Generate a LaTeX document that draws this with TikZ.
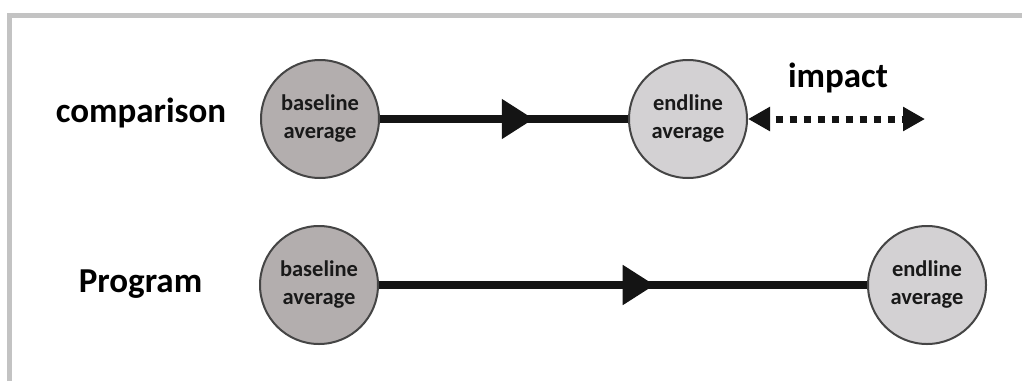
\documentclass[tikz,border=0pt]{standalone}
\usepackage{fontspec}
\setmainfont{Carlito}
\usetikzlibrary{arrows.meta,decorations.markings}
\definecolor{bordergray}{HTML}{C3C3C3}
\definecolor{basefill}{HTML}{B3AEAE}
\definecolor{endfill}{HTML}{D3D1D3}
\definecolor{ringcol}{HTML}{454545}
\tikzset{
  avgcircle/.style={circle, draw=ringcol, line width=2pt, minimum size=118pt, inner sep=0pt,
    align=center, font=\fontsize{22.5}{28}\selectfont\bfseries, text=black!90},
  basecirc/.style={avgcircle, fill=basefill},
  endcirc/.style={avgcircle, fill=endfill},
  rowlabel/.style={font=\fontsize{35}{40}\selectfont\bfseries, anchor=base, inner sep=0pt},
  mainline/.style={line width=8pt, draw=black!92},
  midarrow/.style={postaction={decorate}, decoration={markings,
    mark=at position #1 with {\arrow{Triangle[length=32pt,width=38pt]}}}},
  impactline/.style={line width=7pt, draw=black!92, dash pattern=on 7pt off 7pt, dash phase=7pt,
    {Triangle[length=22pt,width=23pt]}-{Triangle[length=22pt,width=23pt]}}
}
\begin{document}
\begin{tikzpicture}[x=1pt,y=-1pt]
\useasboundingbox (0,0) rectangle (1022,381);
\draw[bordergray, line width=5pt] (9.5,381) -- (9.5,15.5) -- (1022,15.5);
% row 1
\node[rowlabel] (lblcomp) at (141,122) {comparison};
\node[basecirc] (cb) at (320,119) {baseline\\average};
\node[endcirc] (ce) at (688,119) {endline\\average};
\draw[mainline, midarrow=0.62] (cb) -- (ce);
\coordinate (impend) at (925,119);
\draw[impactline] (ce) -- (impend);
\node[rowlabel] (lblimp) at (838,87) {impact};
% row 2
\node[rowlabel] (lblprog) at (140.5,292) {Program};
\node[basecirc] (pb) at (319,285) {baseline\\average};
\node[endcirc] (pe) at (927,285) {endline\\average};
\draw[mainline, midarrow=0.565] (pb) -- (pe);
\end{tikzpicture}
\end{document}
